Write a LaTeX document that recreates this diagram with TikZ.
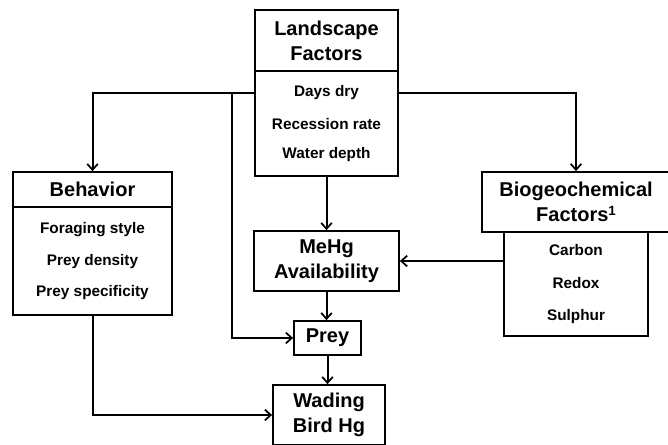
\documentclass[tikz,border=0pt]{standalone}
\usepackage{fontspec}
\setmainfont{Liberation Sans}
\usetikzlibrary{arrows.meta}
\begin{document}
\begin{tikzpicture}[x=0.75pt,y=-0.75pt,
  box/.style={draw,line width=1.3pt,inner sep=0pt,anchor=center},
  ttl/.style={font=\bfseries\fontsize{15}{18.75}\selectfont,align=center,inner sep=0pt},
  itm/.style={font=\bfseries\fontsize{11.5}{13}\selectfont,inner sep=0pt},
  arr/.style={line width=1.5pt,-{Straight Barb[length=4.5pt,width=8pt,line width=1.3pt]}},
  ln/.style={line width=1.5pt}]
\useasboundingbox (0,0) rectangle (668,444);
\clip (0,0) rectangle (668,444);
% Landscape
\node[box,minimum width=143*0.75pt,minimum height=61*0.75pt] (land) at (326.5,40.5) {};
\node[ttl] (landt) at (land.center) {Landscape\\Factors};
\node[box,minimum width=143*0.75pt,minimum height=105*0.75pt] (landitems) at (326.5,123.5) {};
\node[itm] (dd) at (326.5,93) {Days dry};
\node[itm] (rr) at (326.5,124) {Recession rate};
\node[itm] (wd) at (326.5,155) {Water depth};
% Behavior
\node[box,minimum width=159*0.75pt,minimum height=35*0.75pt] (beh) at (92.5,189.5) {};
\node[ttl] (beht) at (beh.center) {Behavior};
\node[box,minimum width=159*0.75pt,minimum height=108*0.75pt] (behitems) at (92.5,261) {};
\node[itm] (fs) at (92.5,230) {Foraging style};
\node[itm] (pd) at (92.5,262) {Prey density};
\node[itm] (ps) at (92.5,293) {Prey specificity};
% Biogeochemical
\node[box,minimum width=188*0.75pt,minimum height=60*0.75pt] (bio) at (576,202) {};
\node[ttl] (biot) at (bio.center) {Biogeochemical\\Factors{\fontsize{10}{10}\selectfont\raisebox{0.45em}{1}}};
\node[box,minimum width=144*0.75pt,minimum height=104*0.75pt] (bioitems) at (576,284) {};
\node[itm] (ca) at (576,250) {Carbon};
\node[itm] (re) at (576,283) {Redox};
\node[itm] (su) at (576,317) {Sulphur};
% MeHg
\node[box,minimum width=145*0.75pt,minimum height=60*0.75pt] (mehg) at (326.5,261) {};
\node[ttl] (mehgt) at (mehg.center) {MeHg\\Availability};
% Prey
\node[box,minimum width=67*0.75pt,minimum height=34*0.75pt] (prey) at (327.5,338) {};
\node[ttl] (preyt) at (prey.center) {Prey};
% Wading
\node[box,minimum width=112*0.75pt,minimum height=60*0.75pt] (wad) at (329,415) {};
\node[ttl] (wadt) at (wad.center) {Wading\\Bird Hg};
% connectors
\coordinate (j1) at (232,93);
\draw[arr] (dd -| landitems.west) -| (beh.north);
\draw[arr] (j1) |- (prey.west);
\draw[arr] (dd -| landitems.east) -| (bio.north);
\draw[arr] (landitems.south) -- (mehg.north);
\draw[arr] (bioitems.west |- mehg.east) -- (mehg.east);
\draw[arr] (mehg.south) -- (mehg.south |- prey.north);
\draw[arr] (prey.south) -- (prey.south |- wad.north);
\draw[arr] (behitems.south) |- (wad.west);
\end{tikzpicture}
\end{document}
